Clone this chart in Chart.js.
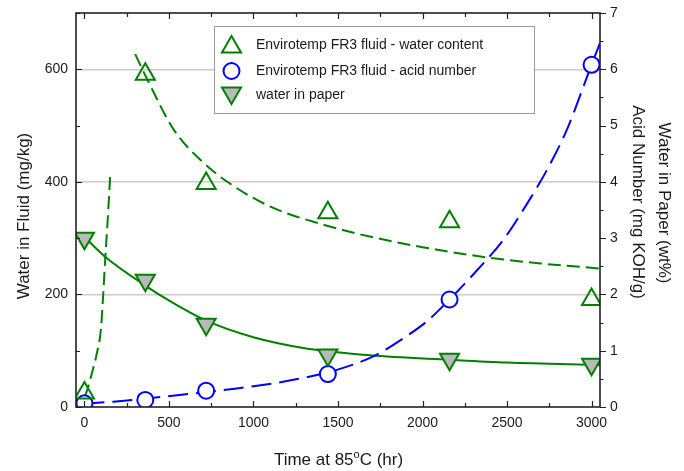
<!DOCTYPE html>
<html>
<head>
<meta charset="utf-8">
<script src="https://cdn.jsdelivr.net/npm/chart.js@4/dist/chart.umd.min.js"></script>
<style>
  html, body { margin: 0; padding: 0; background: #ffffff; }
  #wrap { width: 684px; height: 471px; position: relative; }
</style>
</head>
<body>
<div id="wrap"><canvas id="chart" width="684" height="471"></canvas></div>
<script>
// Aging time (hours at 85 °C) for the measured samples
const timeHours = [0, 360, 720, 1440, 2160, 3000];
// Envirotemp FR3 fluid - water content (mg/kg), left axis
const waterContent = [25, 591, 397, 345, 329, 191];
// Envirotemp FR3 fluid - acid number (mg KOH/g), right axis
const acidNumber = [0.065, 0.125, 0.29, 0.586, 1.91, 6.08];
// Water in paper (wt%), right axis
const paperWater = [3.0, 2.25, 1.47, 0.925, 0.85, 0.76];

// Trend curves traced through the data
const earlyRiseT = [2, 16, 44, 73, 97, 109, 122, 137, 152];
const earlyRiseV = [18, 30, 60, 95, 137, 190, 258, 330, 409];
const waterTrendT = [300, 370, 530, 690, 860, 1100, 1400, 1700, 2000, 2400, 2700, 3050];
const waterTrendV = [627, 583, 492, 438, 397, 356, 325, 302, 284, 265, 255, 246];
const acidTrendT = [0, 171, 507, 901, 1197, 1493, 1709, 1886, 2025, 2160, 2320, 2478, 2616, 2734, 2853, 3000, 3049];
const acidTrendV = [0.06, 0.095, 0.195, 0.33, 0.46, 0.66, 0.90, 1.22, 1.52, 1.91, 2.42, 2.97, 3.60, 4.20, 4.92, 6.08, 6.46];
const paperTrendT = [0, 122, 369, 507, 724, 999, 1295, 1690, 2160, 2500, 3050];
const paperTrendV = [3.02, 2.67, 2.14, 1.88, 1.53, 1.24, 1.05, 0.92, 0.84, 0.79, 0.745];

// Axis tick labels
const xTicks = [0, 500, 1000, 1500, 2000, 2500, 3000];
const yLeftTicks = [0, 200, 400, 600];
const yRightTicks = [0, 1, 2, 3, 4, 5, 6, 7];

// Legend entries
const legendLabels = [
  'Envirotemp FR3 fluid - water content',
  'Envirotemp FR3 fluid - acid number',
  'water in paper'
];

const GREEN = '#008000';
const BLUE = '#0000ff';
const FONT = "'Liberation Sans', Arial, sans-serif";
const INK = '#1a1a1a';

const pts = (xs, ys) => xs.map((x, i) => ({ x: x, y: ys[i] }));

function trend(xs, ys, color, axis, dash) {
  return {
    type: 'line',
    data: pts(xs, ys),
    yAxisID: axis,
    borderColor: color,
    borderWidth: 2,
    borderDash: dash,
    pointRadius: 0,
    fill: false,
    cubicInterpolationMode: 'monotone',
    order: 10
  };
}

function markTriangle(ctx, cx, cy, r, down) {
  const s = down ? -1 : 1;
  const dx = r * Math.sin(Math.PI * 2 / 3);
  ctx.beginPath();
  ctx.moveTo(cx, cy - s * r);
  ctx.lineTo(cx + dx, cy + s * r * 0.5);
  ctx.lineTo(cx - dx, cy + s * r * 0.5);
  ctx.closePath();
}

const plainNumber = v => String(v);

// fixed axis band sizes, no extra label overflow padding
function fixSize(prop, size) {
  return s => {
    s[prop] = size;
    s.paddingTop = 0; s.paddingBottom = 0;
    s.paddingLeft = 0; s.paddingRight = 0;
  };
}

const framePlugin = {
  id: 'frame',
  afterDraw(chart) {
    const { ctx, chartArea: a, scales } = chart;
    const xs = scales.x, yl = scales.y, yr = scales.y2;
    ctx.save();

    // tick marks
    ctx.strokeStyle = '#222';
    ctx.lineWidth = 1.2;
    ctx.beginPath();
    for (let v = 0; v <= 3000; v += 250) {
      const px = Math.round(xs.getPixelForValue(v)) + 0.5;
      const len = v % 500 === 0 ? 6 : 4;
      ctx.moveTo(px, a.bottom); ctx.lineTo(px, a.bottom - len);
      ctx.moveTo(px, a.top); ctx.lineTo(px, a.top + len);
    }
    for (let v = 0; v <= 700; v += 100) {
      const py = Math.round(yl.getPixelForValue(v)) + 0.5;
      const len = v % 200 === 0 ? 6 : 4;
      ctx.moveTo(a.left, py); ctx.lineTo(a.left + len, py);
    }
    for (let v = 0; v <= 7; v += 0.5) {
      const py = Math.round(yr.getPixelForValue(v)) + 0.5;
      const len = Number.isInteger(v) ? 6 : 3.5;
      ctx.moveTo(a.right, py); ctx.lineTo(a.right + len, py);
    }
    ctx.stroke();

    // plot frame
    ctx.lineWidth = 1.6;
    ctx.strokeStyle = '#222';
    ctx.strokeRect(a.left, a.top, a.right - a.left, a.bottom - a.top);

    // legend box
    const lx = 214.5, ly = 26.5, lw = 320, lh = 87;
    ctx.fillStyle = '#ffffff';
    ctx.fillRect(lx, ly, lw, lh);
    ctx.strokeStyle = '#9a9a9a';
    ctx.lineWidth = 1;
    ctx.strokeRect(lx, ly, lw, lh);

    const rows = [45, 71, 95];
    const mx = 231.5;
    ctx.lineWidth = 2;
    // water content marker
    markTriangle(ctx, mx, rows[0] + 2, 11, false);
    ctx.strokeStyle = GREEN; ctx.stroke();
    // acid number marker
    ctx.beginPath(); ctx.arc(mx, rows[1], 8, 0, Math.PI * 2);
    ctx.fillStyle = '#fff'; ctx.fill();
    ctx.strokeStyle = BLUE; ctx.stroke();
    // water in paper marker
    markTriangle(ctx, mx, rows[2] - 2, 11, true);
    ctx.fillStyle = '#b9b9b9'; ctx.fill();
    ctx.strokeStyle = GREEN; ctx.stroke();

    ctx.fillStyle = INK;
    ctx.font = '14px ' + FONT;
    ctx.textAlign = 'left';
    ctx.textBaseline = 'middle';
    legendLabels.forEach((t, i) => ctx.fillText(t, 256, rows[i]));

    // axis titles
    ctx.font = '17px ' + FONT;
    ctx.fillStyle = INK;
    ctx.textAlign = 'center';
    ctx.textBaseline = 'middle';

    ctx.save();
    ctx.translate(24, 216);
    ctx.rotate(-Math.PI / 2);
    ctx.fillText('Water in Fluid (mg/kg)', 0, 0);
    ctx.restore();

    ctx.save();
    ctx.translate(638, 202);
    ctx.rotate(Math.PI / 2);
    ctx.fillText('Acid Number (mg KOH/g)', 0, 0);
    ctx.restore();

    ctx.save();
    ctx.translate(664, 203);
    ctx.rotate(Math.PI / 2);
    ctx.fillText('Water in Paper (wt%)', 0, 0);
    ctx.restore();

    // x title with superscript degree
    const partA = 'Time at 85', partB = 'o', partC = 'C (hr)';
    const big = '17px ' + FONT, small = '11px ' + FONT;
    ctx.font = big; const wA = ctx.measureText(partA).width, wC = ctx.measureText(partC).width;
    ctx.font = small; const wB = ctx.measureText(partB).width;
    const total = wA + wB + wC;
    let tx = 338.5 - total / 2;
    const base = 465;
    ctx.textAlign = 'left';
    ctx.textBaseline = 'alphabetic';
    ctx.font = big; ctx.fillText(partA, tx, base); tx += wA;
    ctx.font = small; ctx.fillText(partB, tx, base - 7); tx += wB;
    ctx.font = big; ctx.fillText(partC, tx, base);

    ctx.restore();
  }
};

new Chart(document.getElementById('chart'), {
  type: 'scatter',
  data: {
    datasets: [
      {
        label: legendLabels[0],
        data: pts(timeHours, waterContent),
        yAxisID: 'y',
        pointStyle: 'triangle',
        pointRadius: 11,
        pointBorderWidth: 2,
        borderColor: GREEN,
        backgroundColor: 'rgba(0,0,0,0)',
        order: 1
      },
      {
        label: legendLabels[1],
        data: pts(timeHours, acidNumber),
        yAxisID: 'y2',
        pointStyle: 'circle',
        pointRadius: 8,
        pointBorderWidth: 2,
        borderColor: BLUE,
        backgroundColor: '#ffffff',
        order: 2
      },
      {
        label: legendLabels[2],
        data: pts(timeHours, paperWater),
        yAxisID: 'y2',
        pointStyle: 'triangle',
        rotation: 180,
        pointRadius: 11,
        pointBorderWidth: 2,
        borderColor: GREEN,
        backgroundColor: '#b9b9b9',
        order: 1
      },
      trend(earlyRiseT, earlyRiseV, GREEN, 'y', [13, 6]),
      trend(waterTrendT, waterTrendV, GREEN, 'y', [13, 6]),
      trend(acidTrendT, acidTrendV, BLUE, 'y2', [20, 8]),
      trend(paperTrendT, paperTrendV, GREEN, 'y2', [])
    ]
  },
  options: {
    responsive: false,
    animation: false,
    devicePixelRatio: 1,
    layout: { padding: { top: 13, left: 0, right: 0, bottom: 0 } },
    plugins: { legend: { display: false }, tooltip: { enabled: false } },
    scales: {
      x: {
        type: 'linear',
        min: -50, max: 3050,
        afterBuildTicks: s => { s.ticks = xTicks.map(v => ({ value: v })); },
        afterFit: fixSize('height', 64),
        grid: { display: false, drawTicks: false },
        border: { display: false },
        ticks: { color: INK, font: { family: FONT, size: 14 }, padding: 8, maxRotation: 0, callback: plainNumber }
      },
      y: {
        type: 'linear',
        position: 'left',
        min: 0, max: 700,
        afterBuildTicks: s => { s.ticks = yLeftTicks.map(v => ({ value: v })); },
        afterFit: fixSize('width', 76),
        grid: {
          drawTicks: false,
          lineWidth: 1.5,
          color: c => (c.tick && c.tick.value > 0) ? '#cccccc' : 'rgba(0,0,0,0)'
        },
        border: { display: false },
        ticks: { color: INK, font: { family: FONT, size: 14 }, padding: 8, callback: plainNumber }
      },
      y2: {
        type: 'linear',
        position: 'right',
        min: 0, max: 7,
        afterBuildTicks: s => { s.ticks = yRightTicks.map(v => ({ value: v })); },
        afterFit: fixSize('width', 84),
        grid: { display: false, drawTicks: false },
        border: { display: false },
        ticks: { color: INK, font: { family: FONT, size: 14 }, padding: 10, callback: plainNumber }
      }
    }
  },
  plugins: [framePlugin]
});
</script>
</body>
</html>
